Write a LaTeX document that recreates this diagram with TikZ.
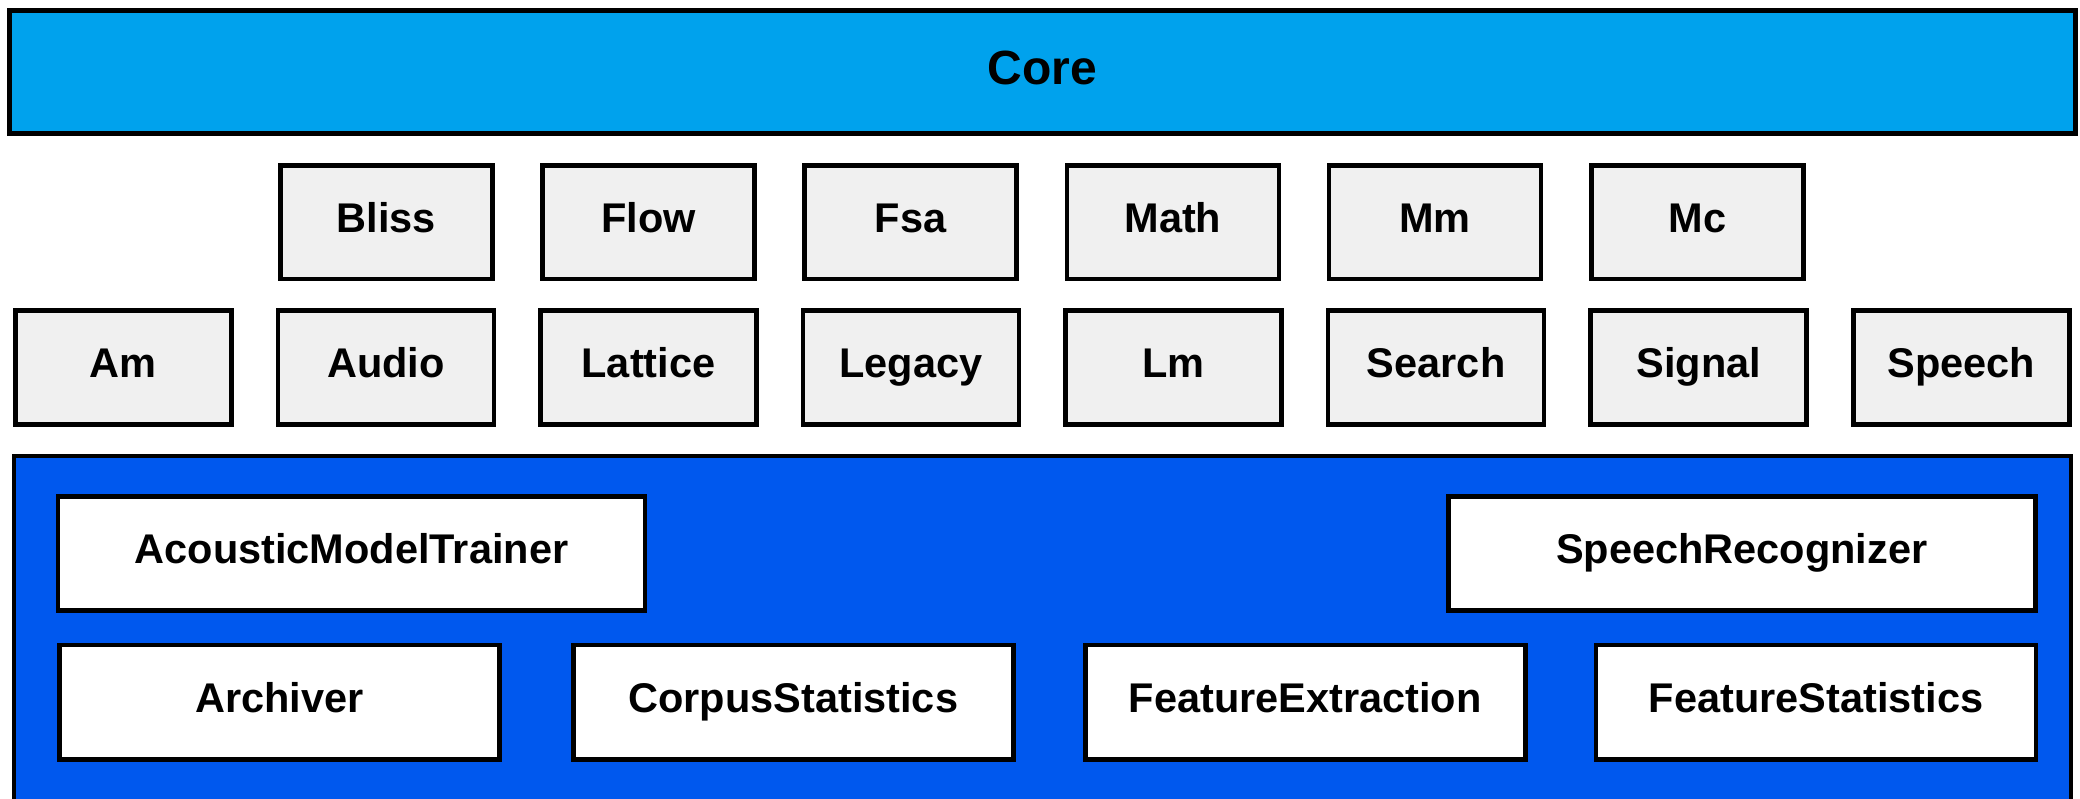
\documentclass[tikz,border=0pt]{standalone}
\usepackage{fontspec}
\setmainfont{Liberation Sans}
\definecolor{corefill}{RGB}{0,162,237}
\definecolor{libfill}{RGB}{240,240,240}
\definecolor{appfill}{RGB}{0,88,238}
\begin{document}
\begin{tikzpicture}[x=0.5pt,y=-0.5pt,
  box/.style={draw=black,line width=2.3pt,inner sep=0pt,outer sep=0pt,
    font=\fontsize{20.75}{24}\selectfont\bfseries,text=black,
    text height=14.9pt,text depth=4.6pt},
  corebox/.style={box,fill=corefill,line width=2.5pt,
    font=\fontsize{24}{28}\selectfont\bfseries,
    text height=17.2pt,text depth=4pt,
    minimum width=1033pt,minimum height=61.5pt},
  libtop/.style={box,fill=libfill,minimum width=106pt,minimum height=56.75pt},
  libbot/.style={box,fill=libfill,minimum width=108pt,minimum height=57pt},
  appframe/.style={box,fill=appfill,minimum width=1028.5pt,minimum height=187pt},
  appwide/.style={box,fill=white,minimum width=293.5pt,minimum height=57pt},
  appbox/.style={box,fill=white,minimum width=220pt,minimum height=57.25pt}]
\useasboundingbox (0,0) rectangle (2080,798);

% core layer
\node[corebox] (core) at (1042.5,71.5) {Core};

% library modules, upper row
\node[libtop] (bliss) at (386.25,222.25) {Bliss};
\node[libtop] (flow)  at (648.45,222.25) {Flow};
\node[libtop] (fsa)   at (910.65,222.25) {Fsa};
\node[libtop] (math)  at (1172.85,222.25) {Math};
\node[libtop] (mm)    at (1435.05,222.25) {Mm};
\node[libtop] (mc)    at (1697.25,222.25) {Mc};

% library modules, lower row
\node[libbot] (am)      at (123.4,367.5) {Am};
\node[libbot] (audio)   at (385.95,367.5) {Audio};
\node[libbot] (lattice) at (648.5,367.5) {Lattice};
\node[libbot] (legacy)  at (911.05,367.5) {Legacy};
\node[libbot] (lm)      at (1173.6,367.5) {Lm};
\node[libbot] (search)  at (1436.15,367.5) {Search};
\node[libbot] (signal)  at (1698.7,367.5) {Signal};
\node[libbot] (speech)  at (1961.25,367.5) {Speech};

% tools layer
\node[appframe] (tools) at (1042.5,643) {};
\node[appwide] (amt) at (351.5,553.5) {AcousticModelTrainer};
\node[appwide] (sr)  at (1741.75,553.5) {SpeechRecognizer};
\node[appbox] (arch) at (279.25,702.25) {Archiver};
\node[appbox] (cs)   at (793.25,702.25) {CorpusStatistics};
\node[appbox] (fe)   at (1305.25,702.25) {FeatureExtraction};
\node[appbox] (fs)   at (1816,702.25) {FeatureStatistics};
\end{tikzpicture}
\end{document}
